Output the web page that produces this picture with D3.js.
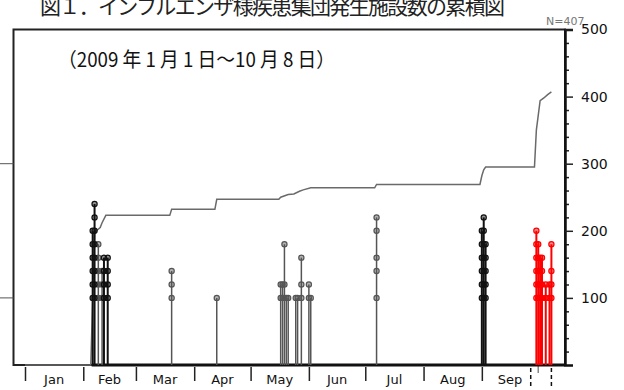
<!DOCTYPE html>
<html>
<head>
<meta charset="utf-8">
<script src="https://cdn.jsdelivr.net/npm/d3@7"></script>
<style>
  body { margin: 0; background: #fff; }
  svg { display: block; }
</style>
</head>
<body>
<div id="chart"></div>
<script>
// ---- data ----
const titleText = "図１．インフルエンザ様疾患集団発生施設数の累積図";
const subtitleText = "（2009 年 1 月 1 日～10 月 8 日）";
const nLabel = "N=407";

const monthNames = ["Jan", "Feb", "Mar", "Apr", "May", "Jun", "Jul", "Aug", "Sep"];
const monthStarts = ["2009-01-01", "2009-02-01", "2009-03-01", "2009-04-01", "2009-05-01",
  "2009-06-01", "2009-07-01", "2009-08-01", "2009-09-01", "2009-10-01"];
const periodMarks = ["2009-09-27", "2009-10-08"];

const yTicks = [100, 200, 300, 400, 500];

// cumulative count (grey line)
const cumDates = ["2009-01-01", "2009-02-05", "2009-02-07", "2009-02-08", "2009-02-10", "2009-02-11",
  "2009-02-13", "2009-03-19", "2009-03-20", "2009-04-12", "2009-04-13", "2009-05-16", "2009-05-17",
  "2009-05-21", "2009-05-24", "2009-05-27", "2009-05-29", "2009-06-02", "2009-07-06", "2009-07-07",
  "2009-08-31", "2009-09-01", "2009-09-02", "2009-09-03", "2009-09-29", "2009-09-30", "2009-10-01",
  "2009-10-02", "2009-10-04", "2009-10-06", "2009-10-08"];
const cumValues = [0, 0, 195, 200, 205, 212,
  223, 223, 232, 232, 247, 247, 250,
  254, 255, 259, 261, 264, 264, 269,
  269, 282, 291, 295, 295, 350, 372,
  394, 398, 403, 407];

// stems (each circle is one value on the stem)
const blackStemDates = ["2009-02-06", "2009-02-07", "2009-02-12", "2009-02-14",
  "2009-09-01", "2009-09-02", "2009-09-03"];
const blackStemValues = [
  [100, 120, 140, 160, 180, 200],
  [100, 120, 140, 160, 180, 200, 220, 240],
  [100, 120, 140, 160],
  [100, 120, 140, 160],
  [100, 120, 140, 160, 180, 200],
  [100, 120, 140, 160, 180, 200, 220],
  [100, 120, 140, 160, 180]
];

const grayStemDates = ["2009-02-09", "2009-02-11", "2009-03-20", "2009-04-13", "2009-05-17",
  "2009-05-18", "2009-05-19", "2009-05-20", "2009-05-21", "2009-05-25", "2009-05-26",
  "2009-05-28", "2009-06-01", "2009-06-02", "2009-07-07"];
const grayStemValues = [
  [100, 120, 140, 160, 180],
  [100, 120, 140],
  [100, 120, 140],
  [100],
  [100, 120],
  [100, 120],
  [100, 120, 180],
  [100],
  [100],
  [100],
  [100],
  [100, 120, 160],
  [100, 120],
  [100],
  [100, 140, 160, 200, 220]
];

const redStemDates = ["2009-09-30", "2009-10-01", "2009-10-02", "2009-10-03",
  "2009-10-05", "2009-10-07", "2009-10-08"];
const redStemValues = [
  [100, 120, 140, 160, 180, 200],
  [100, 120, 140, 160, 180],
  [100, 120, 140, 160],
  [100, 120, 140, 160],
  [100, 120],
  [100, 120],
  [100, 120, 140, 180]
];

// ---- layout ----
let w = 624;
let h = 390;
let frameL = 13.5, frameR = 565, frameT = 29.5, frameB = 365;

let parse = d3.utcParse("%Y-%m-%d");

let svg = d3.select("#chart")
  .append("svg")
  .attr("width", w)
  .attr("height", h)
  .attr("viewBox", "0 0 " + w + " " + h);

let xScale = d3.scaleUtc()
  .domain([parse("2009-01-01"), parse("2009-10-08")])
  .range([25, 551.4]);

let yScale = d3.scaleLinear()
  .domain([0, 500])
  .range([frameB, frameT]);

// title (the original picture cuts it at the top edge)
svg.append("text")
  .attr("x", 40)
  .attr("y", 14)
  .attr("font-family", "Noto Sans CJK JP")
  .attr("font-size", 21)
  .attr("fill", "#222")
  .attr("textLength", 465)
  .text(titleText);

svg.append("text")
  .attr("x", 546)
  .attr("y", 25)
  .attr("font-family", "DejaVu Sans")
  .attr("font-size", 11)
  .attr("fill", "#777")
  .text(nLabel);

// frame
svg.append("rect")
  .attr("x", frameL)
  .attr("y", frameT)
  .attr("width", frameR - frameL)
  .attr("height", frameB - frameT)
  .attr("fill", "none")
  .attr("stroke", "#222")
  .attr("stroke-width", 2);

// left ticks (labels lost at the edge)
svg.selectAll(".lefttick")
  .data([100, 300])
  .enter()
  .append("line")
  .attr("class", "lefttick")
  .attr("x1", 0)
  .attr("x2", frameL)
  .attr("y1", d => yScale(d))
  .attr("y2", d => yScale(d))
  .attr("stroke", "#555")
  .attr("stroke-width", 1);

svg.append("text")
  .attr("x", 58)
  .attr("y", 67)
  .attr("font-family", "Noto Sans CJK JP")
  .attr("font-size", 20)
  .attr("fill", "#111")
  .attr("textLength", 277)
  .attr("lengthAdjust", "spacingAndGlyphs")
  .text(subtitleText);

// right axis, minor + major ticks
let minorTicks = d3.range(0, 501, 20).filter(v => v % 100 != 0);
let minorAxis = d3.axisRight(yScale).tickValues(minorTicks).tickSize(4).tickFormat("");
svg.append("g")
  .attr("transform", "translate(" + frameR + ",0)")
  .call(minorAxis)
  .call(g => g.select(".domain").remove())
  .call(g => g.selectAll("line").attr("stroke", "#222").attr("stroke-width", 1.5));

let yAxis = d3.axisRight(yScale).tickValues(yTicks).tickSize(8).tickPadding(8);
svg.append("g")
  .attr("transform", "translate(" + frameR + ",0)")
  .call(yAxis)
  .call(g => g.select(".domain").attr("stroke", "#111").attr("stroke-width", 2.5))
  .call(g => g.selectAll("line").attr("stroke", "#222").attr("stroke-width", 1.5))
  .call(g => g.selectAll("text")
    .attr("font-family", "DejaVu Sans")
    .attr("font-size", 14)
    .attr("fill", "#111"));

// bottom month ticks and labels
let monthDates = monthStarts.map(parse);
let xAxis = d3.axisBottom(xScale).tickValues(monthDates.slice(0, 9)).tickSize(14).tickFormat("");
svg.append("g")
  .attr("transform", "translate(0," + (frameB + 2) + ")")
  .call(xAxis)
  .call(g => g.select(".domain").remove())
  .call(g => g.selectAll("line").attr("stroke", "#222").attr("stroke-width", 1.5));

// October start: short grey tick
svg.append("line")
  .attr("x1", xScale(monthDates[9]))
  .attr("x2", xScale(monthDates[9]))
  .attr("y1", frameB)
  .attr("y2", frameB + 8)
  .attr("stroke", "#888")
  .attr("stroke-width", 1.5);

svg.selectAll(".month")
  .data(monthNames)
  .enter()
  .append("text")
  .attr("class", "month")
  .attr("x", (d, i) => (xScale(monthDates[i]) + xScale(monthDates[i + 1])) / 2)
  .attr("y", 384)
  .attr("text-anchor", "middle")
  .attr("font-family", "DejaVu Sans")
  .attr("font-size", 13)
  .attr("fill", "#111")
  .text(d => d);

svg.selectAll(".period")
  .data(periodMarks.map(parse))
  .enter()
  .append("line")
  .attr("class", "period")
  .attr("x1", d => xScale(d))
  .attr("x2", d => xScale(d))
  .attr("y1", frameB + 3)
  .attr("y2", frameB + 21)
  .attr("stroke", "#111")
  .attr("stroke-width", 1.5)
  .attr("stroke-dasharray", "4,3");

// cumulative line
let cumData = cumDates.map((d, i) => ({ date: parse(d), value: cumValues[i] }));
let lineMaker = d3.line()
  .x(d => xScale(d.date))
  .y(d => yScale(d.value));

svg.append("path")
  .attr("d", lineMaker(cumData))
  .attr("fill", "none")
  .attr("stroke", "#6a6a6a")
  .attr("stroke-width", 1.5);

// stems baseline
svg.append("line")
  .attr("x1", xScale(parse(blackStemDates[0])) - 1)
  .attr("x2", frameR)
  .attr("y1", frameB)
  .attr("y2", frameB)
  .attr("stroke", "#111")
  .attr("stroke-width", 3);

function drawStems(dates, values, color, width, name) {
  let rows = dates.map((d, i) => ({ date: parse(d), values: values[i] }));
  let groups = svg.selectAll(".stem-" + name)
    .data(rows)
    .enter()
    .append("g")
    .attr("class", "stem-" + name);

  groups.append("line")
    .attr("x1", d => xScale(d.date))
    .attr("x2", d => xScale(d.date))
    .attr("y1", yScale(0))
    .attr("y2", d => yScale(d3.max(d.values)))
    .attr("stroke", color)
    .attr("stroke-width", width);

  groups.selectAll("circle")
    .data(d => d.values.map(v => ({ date: d.date, value: v })))
    .enter()
    .append("circle")
    .attr("cx", d => xScale(d.date))
    .attr("cy", d => yScale(d.value))
    .attr("r", 2.6)
    .attr("fill", color)
    .attr("fill-opacity", 0.45)
    .attr("stroke", color)
    .attr("stroke-width", 1.2);
}

drawStems(grayStemDates, grayStemValues, "#555", 1.5, "gray");
drawStems(blackStemDates, blackStemValues, "#111", 2, "black");
drawStems(redStemDates, redStemValues, "#ff0000", 2, "red");
</script>
</body>
</html>
